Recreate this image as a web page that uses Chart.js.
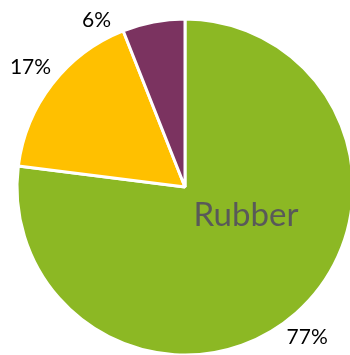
<!DOCTYPE html>
<html><head><meta charset="utf-8">
<script src="https://cdn.jsdelivr.net/npm/chart.js@4/dist/chart.umd.min.js"></script>
<style>
html,body{margin:0;padding:0;width:350px;height:355px;overflow:hidden;background:#fff}
#wrap{position:absolute;left:0;top:0;width:370px;height:374px}
</style></head>
<body>
<div id="wrap"><canvas id="c" width="370" height="374"></canvas></div>
<script>
const categories = ["Rubber", "Other A", "Other B"];
const values = [77, 17, 6];
const labels = ["77%", "17%", "6%"];
const colors = ["#8CB824", "#FFC000", "#7B3360"];

const labelPlugin = {
  id: 'labelPlugin',
  afterDatasetsDraw(chart) {
    const ctx = chart.ctx;
    const meta = chart.getDatasetMeta(0);
    const bounds = { minX: 4, minY: 12, maxX: 328, maxY: 352 };
    ctx.save();
    ctx.font = '21px Lato';
    ctx.fillStyle = '#000';
    ctx.textAlign = 'center';
    ctx.textBaseline = 'middle';
    meta.data.forEach((arc, i) => {
      const p = arc.getProps(['x','y','startAngle','endAngle','outerRadius']);
      const mid = (p.startAngle + p.endAngle) / 2;
      const w = ctx.measureText(labels[i]).width;
      const h = 17;
      const place = (ang) => {
        const c = Math.cos(ang), s = Math.sin(ang);
        const r = p.outerRadius + 6 + Math.abs(c) * w / 2 + Math.abs(s) * h / 2;
        return { x: p.x + c * r, y: p.y + s * r };
      };
      const fits = (q) => q.x - w/2 >= bounds.minX && q.x + w/2 <= bounds.maxX &&
                          q.y - h/2 >= bounds.minY && q.y + h/2 <= bounds.maxY;
      let best = place(mid);
      if (!fits(best)) {
        for (let d = 0.005; d < 1.2; d += 0.005) {
          const a = place(mid + d), b = place(mid - d);
          if (fits(a)) { best = a; break; }
          if (fits(b)) { best = b; break; }
        }
      }
      ctx.fillText(labels[i], best.x, best.y);
    });
    const a = meta.data[0].getProps(['x','y']);
    ctx.font = '33px Lato';
    ctx.fillStyle = '#595959';
    ctx.fillText(categories[0], a.x + 61, a.y + 28);
    ctx.restore();
  }
};

new Chart(document.getElementById('c'), {
  type: 'pie',
  data: { labels: categories, datasets: [{ data: values, backgroundColor: colors, borderColor: '#fff', borderWidth: 3 }] },
  options: {
    responsive: false,
    animation: false,
    radius: 168,
    layout: { padding: 0 },
    plugins: { legend: { display: false }, tooltip: { enabled: false } }
  },
  plugins: [labelPlugin]
});
</script>
</body></html>
